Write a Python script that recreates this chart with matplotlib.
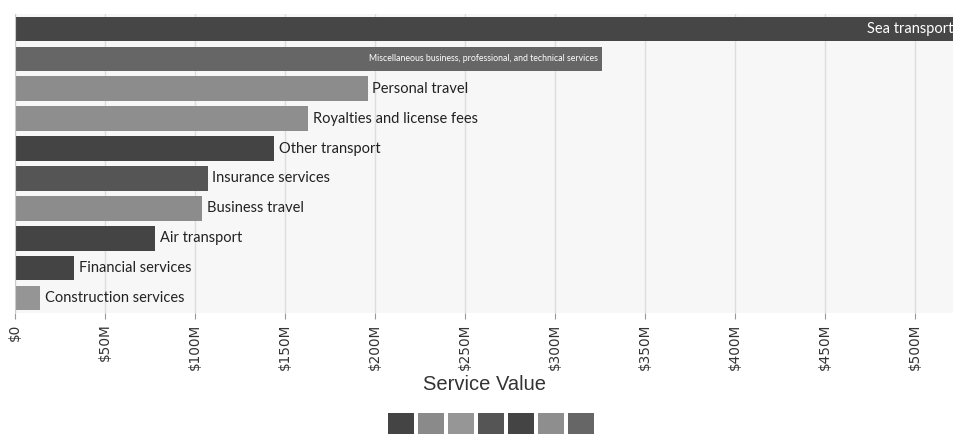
import matplotlib.pyplot as plt
from matplotlib.patches import Patch
from matplotlib.ticker import FuncFormatter

# datos (millones de dolares)
services = ['Sea transport',
            'Miscellaneous business, professional, and technical services',
            'Personal travel', 'Royalties and license fees', 'Other transport',
            'Insurance services', 'Business travel', 'Air transport',
            'Financial services', 'Construction services']
values = [540, 326, 196, 163, 144, 107, 104, 78, 33, 14]
colors = ['#464646', '#666666', '#8c8c8c', '#8e8e8e', '#444444',
          '#555555', '#8c8c8c', '#444444', '#444444', '#959595']
legend_colors = ['#444444', '#8a8a8a', '#969696', '#555555',
                 '#444444', '#8e8e8e', '#666666']
ticks = [0, 50, 100, 150, 200, 250, 300, 350, 400, 450, 500]

fig = plt.figure(figsize=(9.54, 4.34), dpi=100)
ax = fig.add_axes([15 / 954, 1 - 313 / 434, 1 - 15 / 954, 299 / 434])
ax.set_facecolor('#f7f7f7')

y = list(range(len(services)))
ax.barh(y, values, height=0.82, color=colors, zorder=2)
ax.set_ylim(len(services) - 0.5, -0.5)
ax.set_xlim(0, 521.7)

label_font = ['Lato', 'DejaVu Sans']
for i, (name, v) in enumerate(zip(services, values)):
    if i == 0:
        ax.text(521.7 - 0.5, i, name, ha='right', va='center', color='white',
                fontsize=10.5, family=label_font, zorder=3)
    elif i == 1:
        ax.text(v - 2, i, name, ha='right', va='center', color='white',
                fontsize=6.3, family=label_font, zorder=3)
    else:
        ax.text(v + 2.5, i, name, ha='left', va='center', color='#222222',
                fontsize=10.5, family=label_font, zorder=3)

ax.set_xticks(ticks)
ax.xaxis.set_major_formatter(FuncFormatter(lambda x, p: '$0' if x == 0 else f'${x:.0f}M'))
ax.tick_params(axis='x', rotation=90, labelsize=9.8, colors='#333333', length=4,
               color='#999999')
ax.set_yticks([])
ax.grid(axis='x', color='#dddddd', linewidth=1, zorder=0)
for s in ['top', 'right', 'bottom']:
    ax.spines[s].set_visible(False)
ax.spines['left'].set_color('#cccccc')
ax.set_xlabel('Service Value', fontsize=14.5, color='#333333',
              family='Liberation Sans', labelpad=4)

handles = [Patch(facecolor=c) for c in legend_colors]
fig.legend(handles, [''] * len(handles), ncol=7, loc='upper center',
           bbox_to_anchor=(491 / 954, 1 - 413 / 434), frameon=False,
           handlelength=1.87, handleheight=2.0, handletextpad=0,
           columnspacing=0.29, borderaxespad=0, borderpad=0, fontsize=10)

fig.savefig('out.png', dpi=100)
